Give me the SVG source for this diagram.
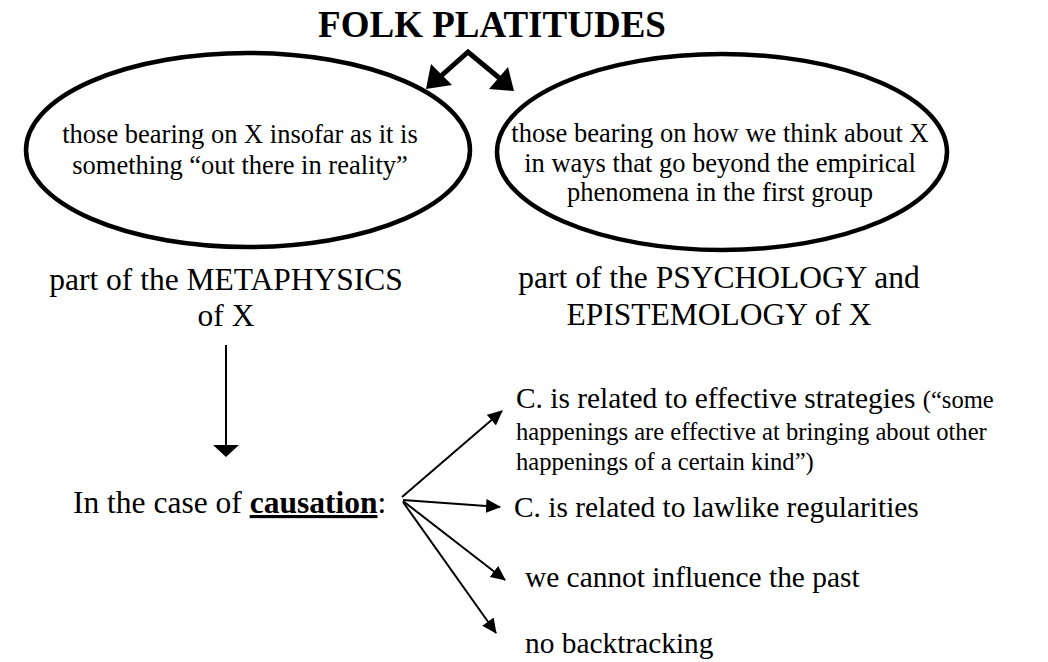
<svg xmlns="http://www.w3.org/2000/svg" width="1048" height="662" viewBox="0 0 1048 662">
<style>
  text { font-family: "Liberation Serif", "Times New Roman", serif; fill: #000; }
  .title { font-size: 37px; font-weight: bold; }
  .oval { fill: none; stroke: #000; stroke-width: 4.5; }
  .ov { font-size: 26.5px; }
  .lbl { font-size: 31.5px; }
  .big { font-size: 29.4px; }
  .small { font-size: 24.6px; }
  .thin { stroke: #000; stroke-width: 2; fill: none; }
  .thick { stroke: #000; stroke-width: 5; fill: none; }
</style>
<defs>
  <marker id="ah" markerWidth="15" markerHeight="14" refX="14" refY="7" orient="auto" markerUnits="userSpaceOnUse" viewBox="0 0 15 14">
    <path d="M0,0 L15,7 L0,14 Z" fill="#000"/>
  </marker>
  <marker id="ahv" markerWidth="12" markerHeight="26" refX="11" refY="13" orient="auto" markerUnits="userSpaceOnUse" viewBox="0 0 12 26">
    <path d="M0,0 L12,13 L0,26 Z" fill="#000"/>
  </marker>
</defs>

<g id="title"><text class="title" x="492" y="37" text-anchor="middle">FOLK PLATITUDES</text></g>

<g id="oval-left">
  <ellipse class="oval" cx="248" cy="150" rx="222" ry="97"/>
  <text class="ov" x="240" y="143" text-anchor="middle">those bearing on X insofar as it is</text>
  <text class="ov" x="240" y="174" text-anchor="middle">something “out there in reality”</text>
</g>

<g id="oval-right">
  <ellipse class="oval" cx="722" cy="152" rx="225" ry="98"/>
  <text class="ov" x="720" y="142" text-anchor="middle" font-size="26">those bearing on how we think about X</text>
  <text class="ov" x="720" y="172" text-anchor="middle" font-size="26">in ways that go beyond the empirical</text>
  <text class="ov" x="720" y="201" text-anchor="middle" font-size="26">phenomena in the first group</text>
</g>

<g id="metaphysics">
  <text class="lbl" x="226" y="290" text-anchor="middle">part of the METAPHYSICS</text>
  <text class="lbl" x="226" y="326" text-anchor="middle">of X</text>
</g>

<g id="psychology">
  <text class="lbl" x="719" y="288" text-anchor="middle">part of the PSYCHOLOGY and</text>
  <text class="lbl" x="719" y="325" text-anchor="middle">EPISTEMOLOGY of X</text>
</g>

<g id="causation">
  <text class="lbl" x="73" y="513">In the case of <tspan font-weight="bold" text-decoration="underline">causation</tspan>:</text>
</g>

<g id="effective">
  <text class="big" x="516" y="408">C. is related to effective strategies <tspan class="small">(“some</tspan></text>
  <text class="small" x="516" y="440">happenings are effective at bringing about other</text>
  <text class="small" x="516" y="470">happenings of a certain kind”)</text>
</g>

<g id="lawlike"><text class="big" x="514" y="517">C. is related to lawlike regularities</text></g>
<g id="past"><text class="big" x="525" y="587">we cannot influence the past</text></g>
<g id="backtracking"><text class="big" x="525" y="653">no backtracking</text></g>

<g id="connectors">
  <polyline class="thick" points="432,84 468,52 509,86"/>
  <path d="M426,89 L431,64 L452,85 Z" fill="#000"/>
  <path d="M514,91 L489,89 L508,67 Z" fill="#000"/>
  <line class="thin" x1="226" y1="345" x2="226" y2="456" marker-end="url(#ahv)"/>
  <line class="thin" x1="402" y1="497" x2="502" y2="411" marker-end="url(#ah)"/>
  <line class="thin" x1="403" y1="500" x2="500" y2="507" marker-end="url(#ah)"/>
  <line class="thin" x1="403" y1="501" x2="505" y2="580" marker-end="url(#ah)"/>
  <line class="thin" x1="403" y1="502" x2="496" y2="633" marker-end="url(#ah)"/>
</g>
</svg>
